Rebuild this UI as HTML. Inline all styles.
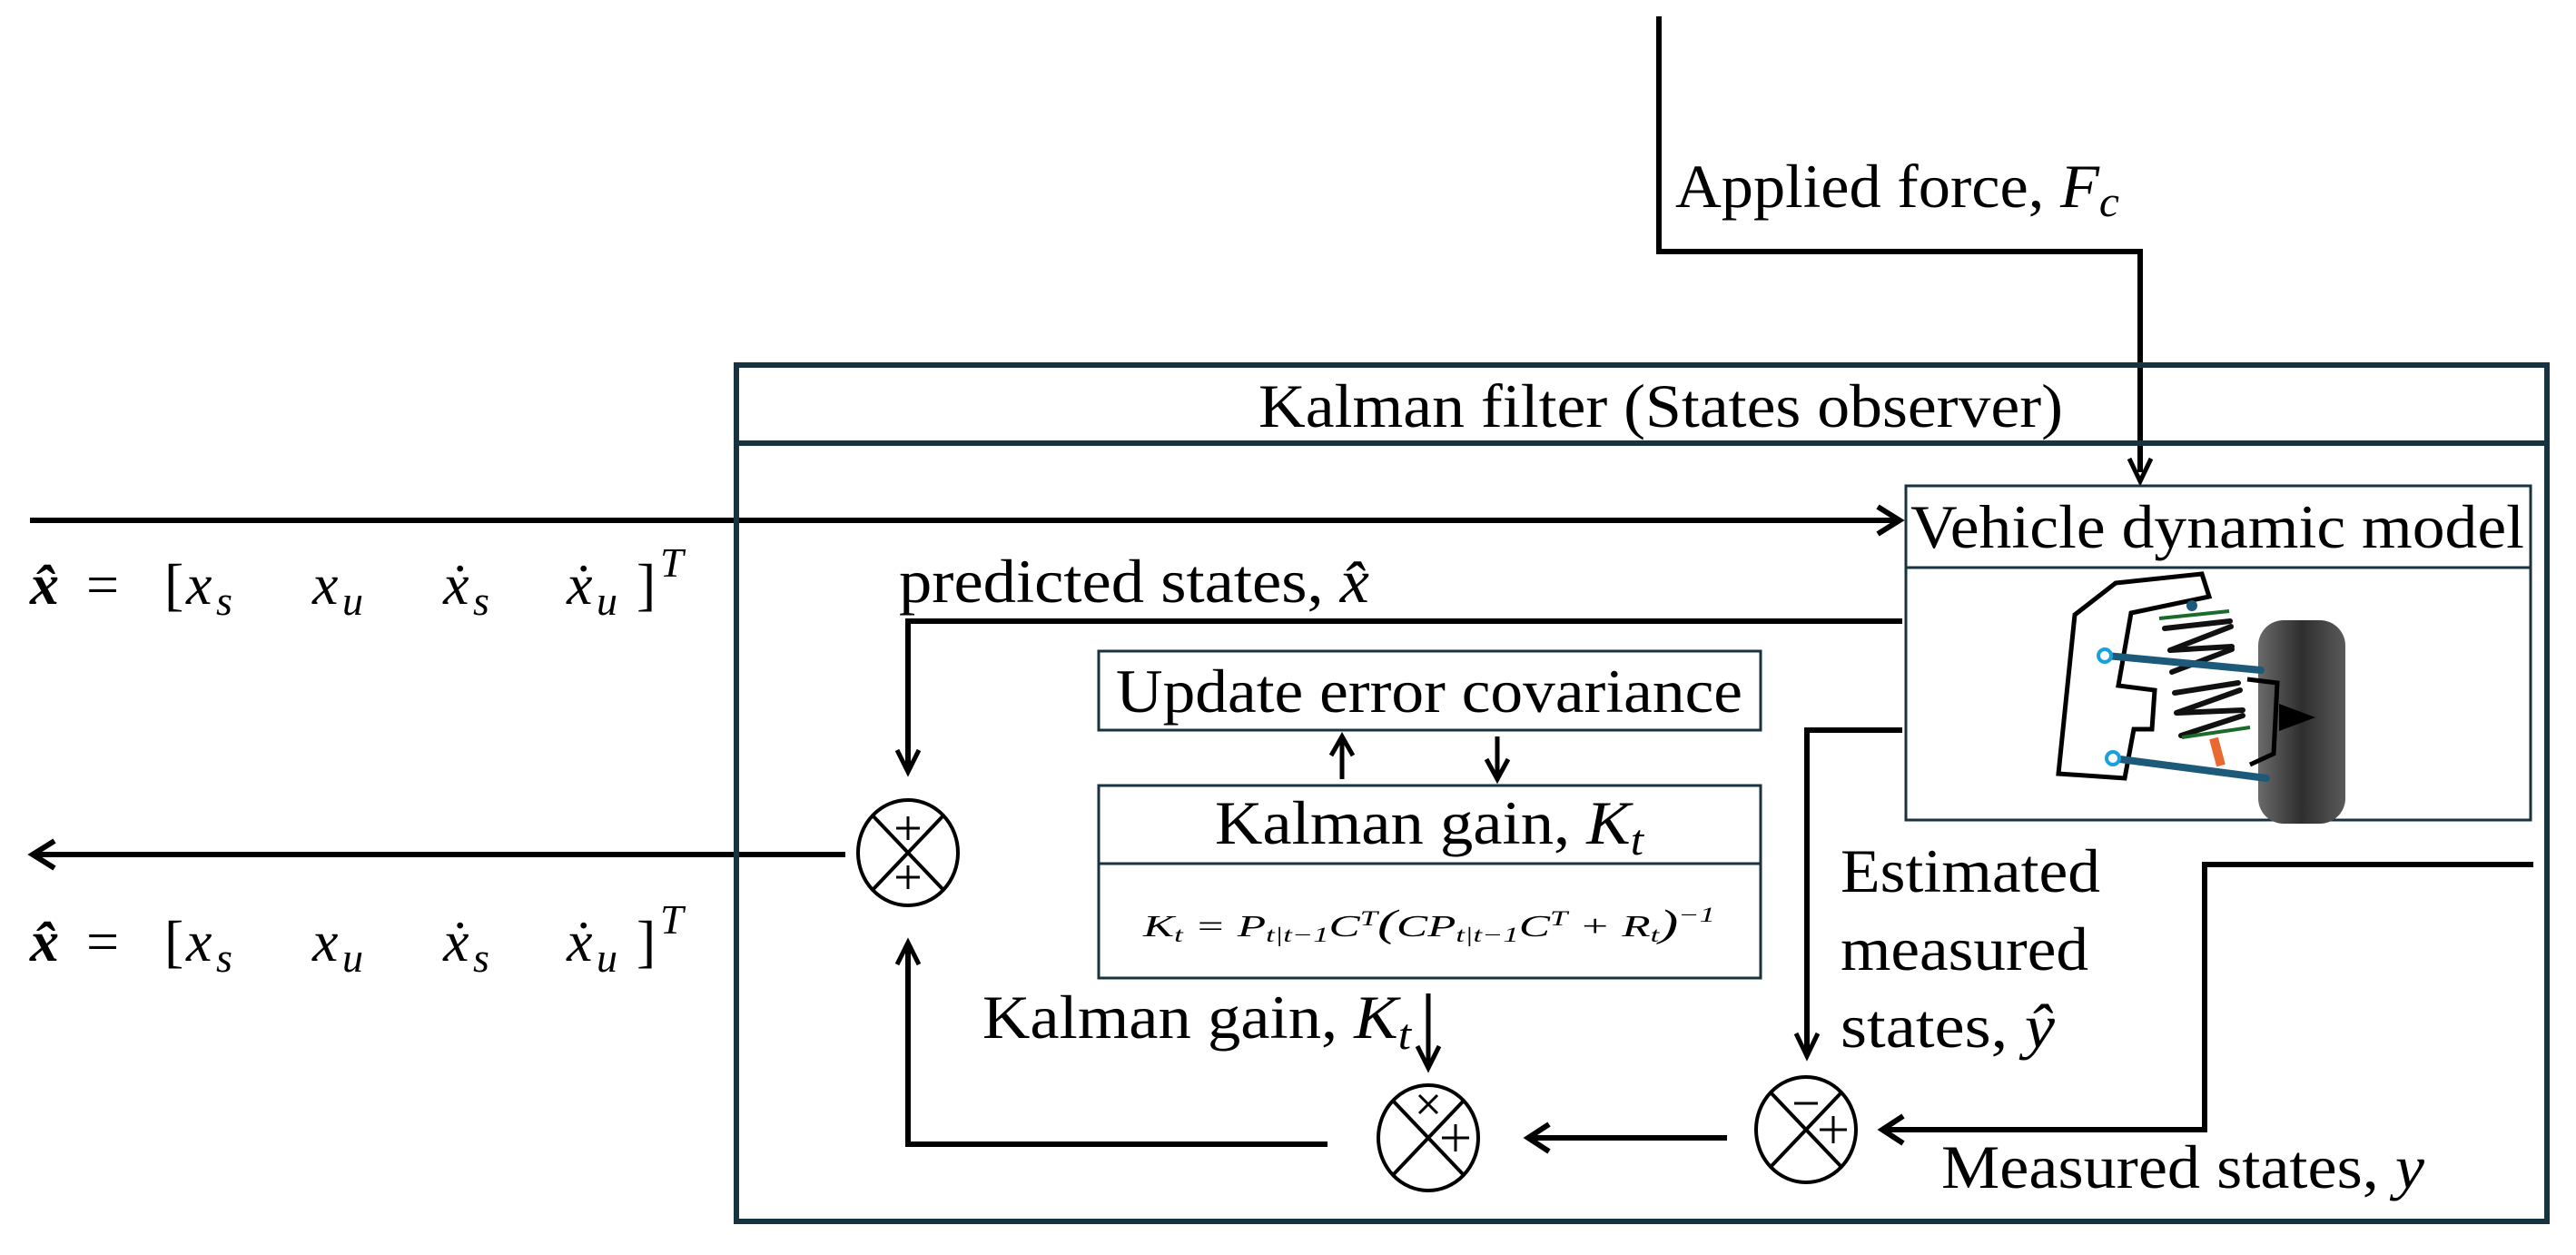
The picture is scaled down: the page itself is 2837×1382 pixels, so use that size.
<!DOCTYPE html>
<html><head><meta charset="utf-8"><style>
html,body{margin:0;padding:0;background:#fff;}
svg{display:block}
text{font-family:"Liberation Serif",serif;fill:#000}
</style></head><body>
<svg width="2837" height="1382" viewBox="0 0 2837 1382" xmlns="http://www.w3.org/2000/svg">
<defs>
<linearGradient id="w" x1="0" x2="1">
<stop offset="0" stop-color="#6a6a6a"/><stop offset="0.5" stop-color="#2e2e2e"/><stop offset="1" stop-color="#5a5a5a"/>
</linearGradient>
</defs>
<g fill="none" stroke="#000" stroke-width="6">
<polyline points="1827,18 1827,277 2357,277 2357,520"/>
<polyline points="2345,505 2357,530 2369,505" stroke-width="5"/>
<line x1="33" y1="573" x2="2088" y2="573"/>
<polyline points="2068,558 2092,573 2068,588" stroke-width="6"/>
<polyline points="2095,684 1000,684 1000,848"/>
<polyline points="988,826 1000,850 1012,826" stroke-width="5"/>
<line x1="931" y1="941" x2="40" y2="941"/>
<polyline points="60,926 36,941 60,956" stroke-width="6"/>
<line x1="1478" y1="858" x2="1478" y2="813" stroke-width="5"/>
<polyline points="1466,832 1478,811 1490,832" stroke-width="5"/>
<line x1="1649" y1="811" x2="1649" y2="856" stroke-width="5"/>
<polyline points="1637,836 1649,858 1661,836" stroke-width="5"/>
<polyline points="2095,804 1990,804 1990,1160"/>
<polyline points="1978,1138 1990,1163 2002,1138" stroke-width="5"/>
<polyline points="2790,952 2428,952 2428,1244 2076,1244"/>
<polyline points="2096,1229 2073,1244 2096,1259" stroke-width="6"/>
<line x1="1902" y1="1253" x2="1688" y2="1253"/>
<polyline points="1706,1238 1683,1253 1706,1268" stroke-width="6"/>
<line x1="1573" y1="1094" x2="1573" y2="1172" stroke-width="5"/>
<polyline points="1561,1152 1573,1176 1585,1152" stroke-width="5"/>
<polyline points="1462,1260 1000,1260 1000,1042"/>
<polyline points="988,1062 1000,1038 1012,1062" stroke-width="5"/>
</g>
<g fill="none" stroke="#17333f">
<rect x="811" y="402" width="1994" height="943" stroke-width="6"/>
<line x1="811" y1="488" x2="2805" y2="488" stroke-width="6"/>
<rect x="2099" y="535" width="688" height="368" stroke-width="3"/>
<line x1="2099" y1="625" x2="2787" y2="625" stroke-width="3"/>
<rect x="1210" y="717" width="729" height="87" stroke-width="3"/>
<rect x="1210" y="865" width="729" height="212" stroke-width="3"/>
<line x1="1210" y1="951" x2="1939" y2="951" stroke-width="3"/>
</g>
<g fill="none" stroke="#000" stroke-width="4">
<ellipse cx="1000" cy="939" rx="55" ry="58"/>
<line x1="961" y1="898" x2="1039" y2="980"/><line x1="1039" y1="898" x2="961" y2="980"/>
<line x1="987" y1="912" x2="1013" y2="912" stroke-width="3"/><line x1="1000" y1="899" x2="1000" y2="925" stroke-width="3"/>
<line x1="987" y1="966" x2="1013" y2="966" stroke-width="3"/><line x1="1000" y1="953" x2="1000" y2="979" stroke-width="3"/>
<ellipse cx="1989" cy="1244" rx="55" ry="58"/>
<line x1="1950" y1="1203" x2="2028" y2="1285"/><line x1="2028" y1="1203" x2="1950" y2="1285"/>
<line x1="1976" y1="1215" x2="2002" y2="1215" stroke-width="3"/>
<line x1="2004" y1="1244" x2="2034" y2="1244" stroke-width="3"/><line x1="2019" y1="1229" x2="2019" y2="1259" stroke-width="3"/>
<ellipse cx="1573" cy="1253" rx="55" ry="58"/>
<line x1="1534" y1="1212" x2="1612" y2="1294"/><line x1="1612" y1="1212" x2="1534" y2="1294"/>
<line x1="1563" y1="1206" x2="1583" y2="1226" stroke-width="3"/><line x1="1583" y1="1206" x2="1563" y2="1226" stroke-width="3"/>
<line x1="1588" y1="1253" x2="1618" y2="1253" stroke-width="3"/><line x1="1603" y1="1238" x2="1603" y2="1268" stroke-width="3"/>
</g>
<rect x="2487" y="683" width="96" height="224" rx="28" fill="url(#w)"/>
<polygon points="2267,852 2285,677 2330,642 2425,632 2433,657 2347,675 2333,755 2373,760 2370,803 2350,803 2340,857" fill="#fff" stroke="#000" stroke-width="5"/>
<g stroke="#111" stroke-width="6" stroke-linecap="round">
<line x1="2384" y1="692" x2="2456" y2="684"/>
<line x1="2390" y1="716" x2="2457" y2="690"/>
<line x1="2390" y1="716" x2="2458" y2="712"/>
<line x1="2392" y1="740" x2="2458" y2="715"/>
<line x1="2395" y1="763" x2="2465" y2="752"/>
<line x1="2397" y1="785" x2="2467" y2="760"/>
<line x1="2398" y1="785" x2="2470" y2="782"/>
<line x1="2402" y1="810" x2="2470" y2="788"/>
</g>
<line x1="2378" y1="681" x2="2455" y2="673" stroke="#1a6a2a" stroke-width="4"/>
<line x1="2403" y1="812" x2="2478" y2="801" stroke="#1a6a2a" stroke-width="4"/>
<line x1="2438" y1="813" x2="2446" y2="843" stroke="#e86a30" stroke-width="10"/>
<g stroke="#1d5a7a" stroke-width="8" stroke-linecap="round">
<line x1="2320" y1="722" x2="2490" y2="738"/>
<line x1="2327" y1="835" x2="2496" y2="857"/>
</g>
<circle cx="2318" cy="722" r="7" fill="#fff" stroke="#1aa0e0" stroke-width="4"/>
<circle cx="2327" cy="835" r="7" fill="#fff" stroke="#1aa0e0" stroke-width="4"/>
<circle cx="2414" cy="667" r="6" fill="#1d5a7a"/>
<polyline points="2475,748 2508,752 2504,830 2478,842" fill="none" stroke="#000" stroke-width="5"/>
<polygon points="2510,775 2550,790 2510,805" fill="#000"/>
<g font-size="68">
<text x="1845" y="228" textLength="489" lengthAdjust="spacingAndGlyphs">Applied force, <tspan font-style="italic">F</tspan><tspan font-style="italic" font-size="48" dy="10">c</tspan></text>
<text x="1386" y="470" textLength="886" lengthAdjust="spacingAndGlyphs">Kalman filter (States observer)</text>
<text x="2104" y="603" textLength="676" lengthAdjust="spacingAndGlyphs">Vehicle dynamic model</text>
<text x="990" y="663" textLength="518" lengthAdjust="spacingAndGlyphs">predicted states, <tspan font-style="italic">x̂</tspan></text>
<text x="1229" y="784" textLength="690" lengthAdjust="spacingAndGlyphs">Update error covariance</text>
<text x="1338" y="929" textLength="472" lengthAdjust="spacingAndGlyphs">Kalman gain, <tspan font-style="italic">K</tspan><tspan font-style="italic" font-size="48" dy="12">t</tspan></text>
<text x="1082" y="1143" textLength="472" lengthAdjust="spacingAndGlyphs">Kalman gain, <tspan font-style="italic">K</tspan><tspan font-style="italic" font-size="48" dy="12">t</tspan></text>
<text x="2027" y="982" textLength="286" lengthAdjust="spacingAndGlyphs">Estimated</text>
<text x="2027" y="1068" textLength="273" lengthAdjust="spacingAndGlyphs">measured</text>
<text x="2027" y="1153" textLength="236" lengthAdjust="spacingAndGlyphs">states, <tspan font-style="italic">ŷ</tspan></text>
<text x="2138" y="1308" textLength="532" lengthAdjust="spacingAndGlyphs">Measured states, <tspan font-style="italic">y</tspan></text>
</g>
<text x="1259" y="1031" font-size="34" font-style="italic" textLength="630" lengthAdjust="spacingAndGlyphs">K<tspan font-size="23" dy="6">t</tspan><tspan dy="-6"> = P</tspan><tspan font-size="23" dy="6">t|t−1</tspan><tspan dy="-6">C</tspan><tspan font-size="23" dy="-12">T</tspan><tspan dy="12" font-size="42">(</tspan>CP<tspan font-size="23" dy="6">t|t−1</tspan><tspan dy="-6">C</tspan><tspan font-size="23" dy="-12">T</tspan><tspan dy="12"> + R</tspan><tspan font-size="23" dy="6">t</tspan><tspan dy="-6" font-size="42">)</tspan><tspan font-size="23" dy="-16">−1</tspan></text>
<g font-size="64">
<g transform="translate(0,665)">
<text x="33" y="0" font-weight="bold" font-style="italic">x̂</text>
<text x="95" y="0">=</text>
<text x="181" y="0">[</text>
<text x="205" y="0" font-style="italic">x</text><text x="238" y="12" font-style="italic" font-size="46">s</text>
<text x="344" y="0" font-style="italic">x</text><text x="377" y="12" font-style="italic" font-size="46">u</text>
<text x="488" y="0" font-style="italic">ẋ</text><text x="521" y="12" font-style="italic" font-size="46">s</text>
<text x="624" y="0" font-style="italic">ẋ</text><text x="657" y="12" font-style="italic" font-size="46">u</text>
<text x="701" y="0">]</text>
<text x="727" y="-30" font-style="italic" font-size="46">T</text>
</g>
<g transform="translate(0,1058)">
<text x="33" y="0" font-weight="bold" font-style="italic">x̂</text>
<text x="95" y="0">=</text>
<text x="181" y="0">[</text>
<text x="205" y="0" font-style="italic">x</text><text x="238" y="12" font-style="italic" font-size="46">s</text>
<text x="344" y="0" font-style="italic">x</text><text x="377" y="12" font-style="italic" font-size="46">u</text>
<text x="488" y="0" font-style="italic">ẋ</text><text x="521" y="12" font-style="italic" font-size="46">s</text>
<text x="624" y="0" font-style="italic">ẋ</text><text x="657" y="12" font-style="italic" font-size="46">u</text>
<text x="701" y="0">]</text>
<text x="727" y="-30" font-style="italic" font-size="46">T</text>
</g>
</g>
</svg>
</body></html>
